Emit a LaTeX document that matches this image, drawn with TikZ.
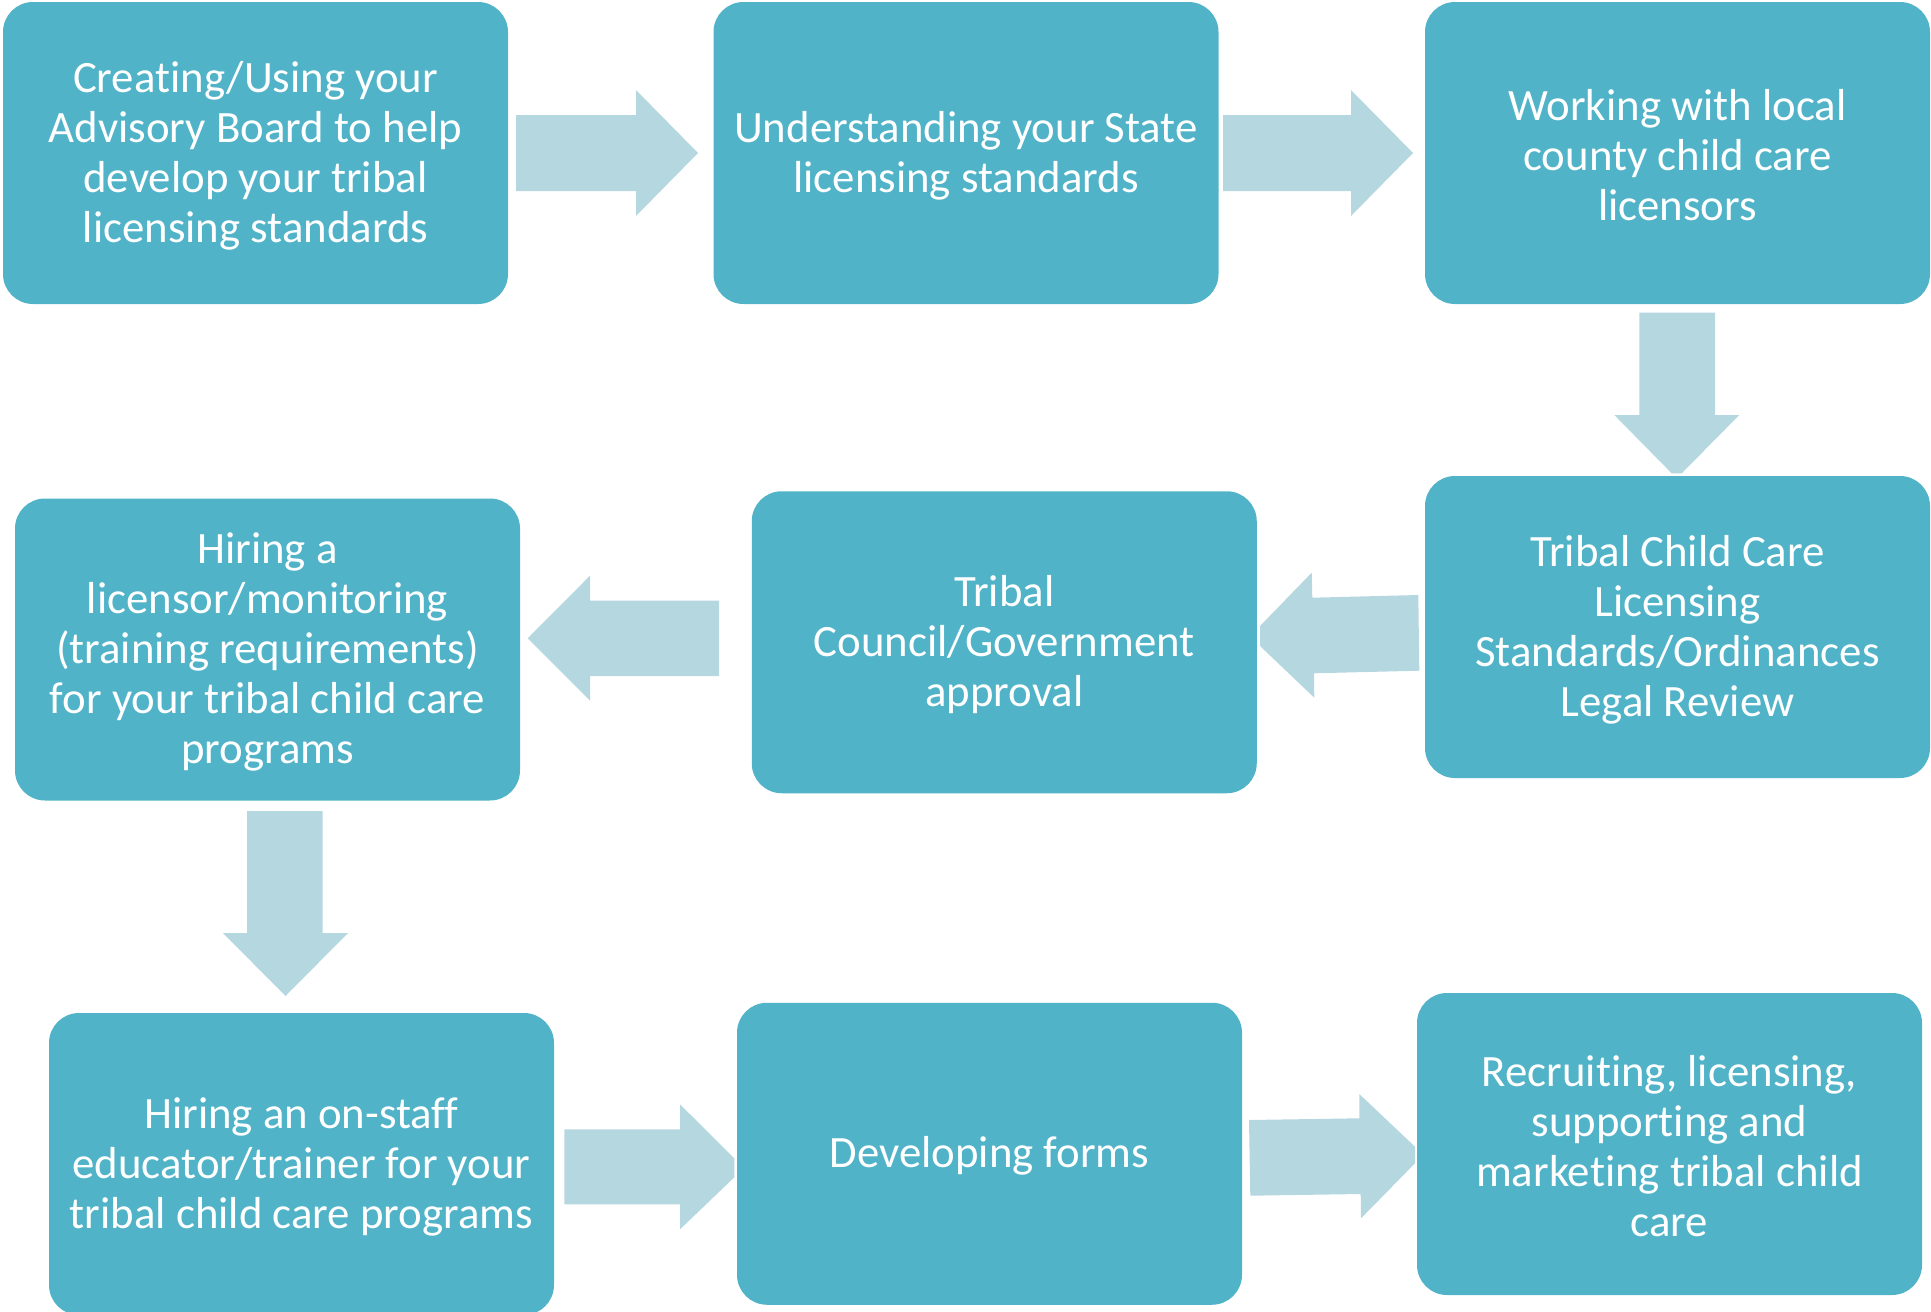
\documentclass[tikz,border=0pt]{standalone}
\usepackage{fontspec}
\setmainfont{Carlito}[Ligatures=NoCommon]
\definecolor{boxfill}{HTML}{50B3C8}
\definecolor{arrowfill}{HTML}{B5D7E0}
\begin{document}
\begin{tikzpicture}[x=1pt,y=-1pt,
  stepbox/.style={rectangle, rounded corners=30pt, fill=boxfill,
    minimum width=505pt, minimum height=302pt, inner sep=0pt},
  steptext/.style={text=white, inner sep=0pt, align=center,
    font=\fontsize{44.8}{50}\selectfont, yshift=-2.5pt},
  blockarrow/.style={fill=arrowfill, draw=none}]
\useasboundingbox (0,0) rectangle (1931,1312);
% block arrows
\fill[blockarrow] (516,115) -- (636,115) -- (636,90) -- (698,153) -- (636,216) -- (636,191) -- (516,191) -- cycle;
\fill[blockarrow] (1223,115) -- (1351,115) -- (1351,90) -- (1413,153) -- (1351,216) -- (1351,191) -- (1223,191) -- cycle;
\fill[blockarrow] (1639.3,312.7) -- (1715,312.7) -- (1715,415) -- (1739.3,415) -- (1681.7,473.3) -- (1671.7,473.3) -- (1614.3,415) -- (1639.3,415) -- cycle;
\fill[blockarrow] (1418.3,595) -- (1312.3,597.7) -- (1311.7,572.7) -- (1260,626) -- (1260,646) -- (1314.3,697.7) -- (1314,673.3) -- (1419.3,670.7) -- cycle;
\fill[blockarrow] (719,600.7) -- (590,600.7) -- (590,575.7) -- (527.7,638.3) -- (590,700.7) -- (590,676) -- (719,676) -- cycle;
\fill[blockarrow] (247,811) -- (322.5,811) -- (322.5,933) -- (348,933) -- (285.5,996) -- (223,933) -- (247,933) -- cycle;
\fill[blockarrow] (564.3,1129.3) -- (680,1129.3) -- (680,1104.3) -- (734.3,1158.3) -- (734.3,1177.3) -- (680,1229.3) -- (680,1204.3) -- (564.3,1204.3) -- cycle;
\fill[blockarrow] (1249,1120) -- (1359.3,1118.3) -- (1359.3,1094) -- (1415,1146.7) -- (1415,1163.3) -- (1361,1218.3) -- (1360.7,1194) -- (1250.3,1195.7) -- cycle;
% boxes
\node[stepbox] (b1) at (255.5,153) {};
\node[stepbox] (b2) at (966,153) {};
\node[stepbox] (b3) at (1677.5,153) {};
\node[stepbox] (b4) at (1677.5,627) {};
\node[stepbox] (b5) at (1004.25,642.25) {};
\node[stepbox] (b6) at (267.5,649.5) {};
\node[stepbox] (b7) at (301.5,1164) {};
\node[stepbox] (b8) at (989.5,1153.75) {};
\node[stepbox] (b9) at (1669.5,1144) {};
% texts
\node[steptext] (t1) at (b1.center) {Creating/Using your\\Advisory Board to help\\develop your tribal\\licensing standards};
\node[steptext] (t2) at (b2.center) {Understanding your State\\licensing standards};
\node[steptext] (t3) at (b3.center) {Working with local\\county child care\\licensors};
\node[steptext] (t4) at (b4.center) {Tribal Child Care\\Licensing\\Standards/Ordinances\\Legal Review};
\node[steptext] (t5) at (b5.center) {Tribal\\Council/Government\\approval};
\node[steptext] (t6) at (b6.center) {Hiring a\\licensor/monitoring\\(training requirements)\\for your tribal child care\\programs};
\node[steptext] (t7) at (b7.center) {Hiring an on-staff\\educator/trainer for your\\tribal child care programs};
\node[steptext] (t8) at (b8.center) {Developing forms};
\node[steptext] (t9) at (b9.center) {Recruiting, licensing,\\supporting and\\marketing tribal child\\care};
\end{tikzpicture}
\end{document}
